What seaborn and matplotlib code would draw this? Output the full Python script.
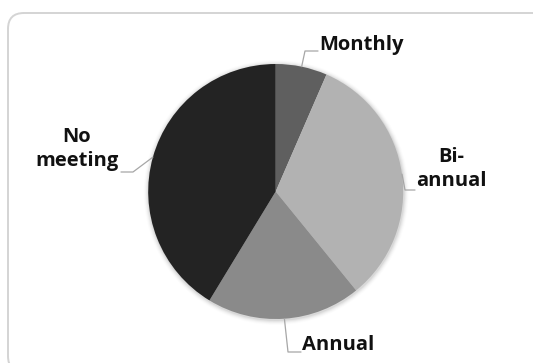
import numpy as np
import matplotlib
matplotlib.use("Agg")
import matplotlib.pyplot as plt
from matplotlib.patches import FancyBboxPatch, Circle
import seaborn as sns

categories = ["Monthly", "Bi-annual", "Annual", "No meeting"]
label_text = ["Monthly", "Bi-\nannual", "Annual", "No\nmeeting"]
counts = [3, 15, 9, 19]
colors = ["#5f5f5f", "#b2b2b2", "#8a8a8a", "#232323"]

sns.set_theme(style="white")
plt.rcParams['font.family'] = ['Open Sans', 'DejaVu Sans']

W, H = 533, 363
fig = plt.figure(figsize=(W / 100, H / 100), dpi=100)
ax = fig.add_axes([0, 0, 1, 1])
ax.set_xlim(0, W)
ax.set_ylim(0, H)
ax.set_aspect("equal")
ax.axis("off")

def P(x, y):
    return (x, H - y)

# frame
frame = FancyBboxPatch(P(8, 372), 540, 359, boxstyle="round,pad=0,rounding_size=16",
                       fc="white", ec="#d4d4d4", lw=1.4, zorder=0)
ax.add_patch(frame)

cx, cy, r = 275.7, 191.5, 127.5
# soft shadow
for i, a in enumerate([0.05, 0.04, 0.03, 0.02, 0.01]):
    ax.add_patch(Circle(P(cx + 0.5, cy + 1), r + 1 + i * 1.0, fc="black", alpha=a, lw=0, zorder=1))

wedges, _ = ax.pie(counts, colors=colors, startangle=90, counterclock=False,
                   center=P(cx, cy), radius=r, frame=True,
                   wedgeprops=dict(linewidth=0, zorder=2))
ax.set_xlim(0, W)
ax.set_ylim(0, H)
ax.axis("off")

# leader lines & labels: (bend point, end point, text pos, ha)
layout = {
    "Monthly": ((305, 51), (318, 51), (319, 45), "left"),
    "Bi-annual": ((405, 190), (415, 190), (451, 169), "center"),
    "Annual": ((288, 352), (301, 352), (302, 345), "left"),
    "No meeting": ((133, 172), (121, 172), (77, 149), "center"),
}
total = sum(counts)
cum = 0
for cat, lab, c in zip(categories, label_text, counts):
    mid = (cum + c / 2) / total * 360
    cum += c
    th = np.deg2rad(mid)
    ex, ey = cx + r * np.sin(th), cy - r * np.cos(th)
    bend, end, tpos, ha = layout[cat]
    xs = [ex, bend[0], end[0]]
    ys = [H - ey, H - bend[1], H - end[1]]
    ax.plot(xs, ys, color="#a6a6a6", lw=0.9, zorder=3)
    ax.text(*P(*tpos), lab, ha=ha, va="center", fontsize=14.5, fontweight="bold",
            color="#111111", linespacing=1.25, zorder=4)

fig.savefig("out.png", dpi=100)
